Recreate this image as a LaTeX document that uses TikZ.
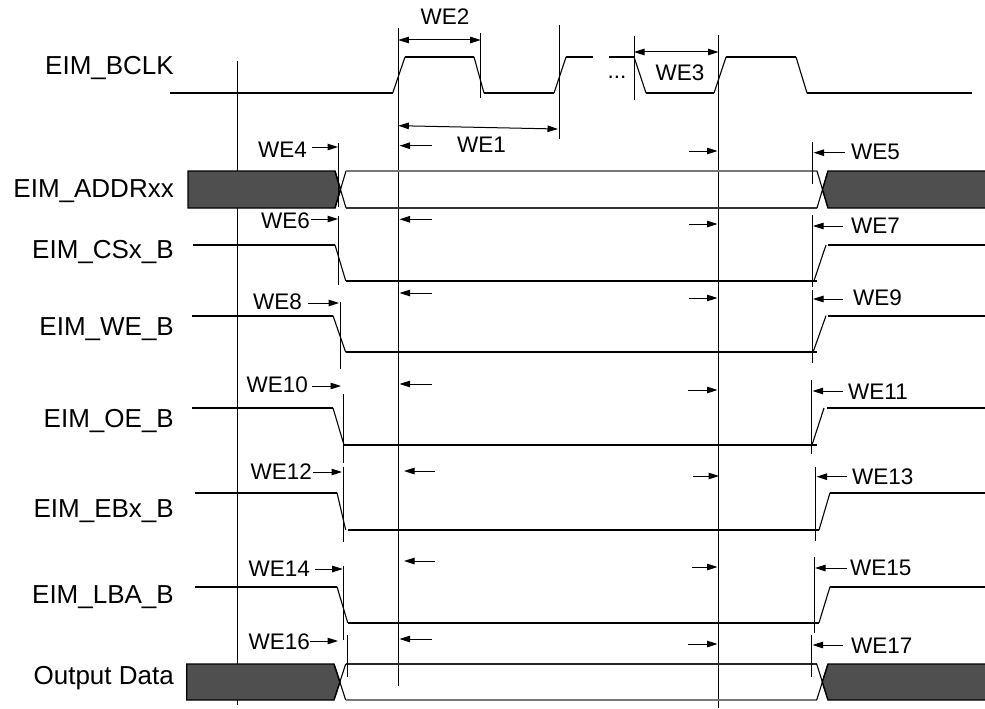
\documentclass[tikz,border=0pt]{standalone}
\usepackage{fontspec}
\setmainfont{Liberation Sans}
\usetikzlibrary{arrows.meta}
\definecolor{busfill}{HTML}{4F4F4F}
\definecolor{busgray}{HTML}{777777}
\tikzset{
  sig/.style={font=\fontsize{26}{30}\selectfont, inner sep=0pt, text height=18.6pt, text depth=0pt, anchor=east},
  lbl/.style={font=\fontsize{22.5}{27}\selectfont, inner sep=0pt, text height=16.1pt, text depth=0pt},
  wave/.style={line width=2pt, line join=miter},
  edge/.style={line width=1.1pt},
  guide/.style={line width=1pt},
  dim/.style={line width=1pt, -{Triangle[length=10.5pt,width=6.5pt]}},
  ddim/.style={line width=1pt, {Triangle[length=10.5pt,width=6.5pt]}-{Triangle[length=10.5pt,width=6.5pt]}},
  busdark/.style={fill=busfill, draw=black, line width=1.4pt},
}
\begin{document}
\begin{tikzpicture}[x=1pt,y=-1pt]
\useasboundingbox (0,0) rectangle (985,709);

% signal names
\node[sig] (nclk) at (174,65) {EIM\_BCLK};
\node[sig] (naddr) at (174,188) {EIM\_ADDRxx};
\node[sig] (ncs) at (174,249.5) {EIM\_CSx\_B};
\node[sig] (nwe) at (174,326) {EIM\_WE\_B};
\node[sig] (noe) at (174,418) {EIM\_OE\_B};
\node[sig] (neb) at (174,508) {EIM\_EBx\_B};
\node[sig] (nlba) at (174,594.5) {EIM\_LBA\_B};
\node[sig] (nout) at (174,675) {Output Data};

% main guide lines
\draw[guide] (237.7,61) -- (237.7,705);
\draw[guide] (398.3,28) -- (398.3,686);
\draw[guide] (718.5,35) -- (718.5,708);
\draw[guide] (480.7,33) -- (480.7,98);
\draw[guide] (559,25) -- (559,139);
\draw[guide] (634,36) -- (634,100);

% clock
\draw[wave] (170,93) -- (392.7,93);
\draw[edge] (392.7,93) -- (405,57);
\draw[wave] (405,57) -- (474,57);
\draw[edge] (474,57) -- (484,93);
\draw[wave] (484,93) -- (554,93);
\draw[edge] (554,93) -- (566,57);
\draw[wave] (566,57) -- (593,57);
\draw[wave] (609,57) -- (634,57);
\draw[edge] (634,57) -- (646,93);
\draw[wave] (646,93) -- (714,93);
\draw[edge] (714,93) -- (726,57);
\draw[wave] (726,57) -- (796,57);
\draw[edge] (796,57) -- (807,93);
\draw[wave] (807,93) -- (972,93);
\node[lbl, anchor=base] (dots) at (617,78) {...};

% clock dimensions
\draw[ddim] (398.3,40) -- (480.7,40);
\node[lbl] (we2) at (445,16) {WE2};
\draw[ddim] (398.3,125.7) -- (558,129);
\node[lbl] (we1) at (481.5,144) {WE1};
\draw[ddim] (634,52) -- (718.5,52);
\node[lbl] (we3) at (680,72.5) {WE3};

% address bus
\draw[busdark] (188,171) -- (335,171) -- (340.5,189.5) -- (335,208) -- (188,208) -- cycle;
\draw[edge] (335,171) -- (346,208) (335,208) -- (346,171);
\draw[line width=1.2pt, busgray] (346,171) -- (817,171);
\draw[line width=1.2pt, black!80] (346,208) -- (817,208);
\draw[edge] (817,171) -- (828,208) (817,208) -- (828,171);
\draw[busdark] (985,171) -- (828,171) -- (822.5,189.5) -- (828,208) -- (985,208);

% CS
\draw[wave] (193,245) -- (335,245);
\draw[edge] (335,245) -- (345.7,280.7);
\draw[wave] (345.7,280.7) -- (817,280.7);
\draw[edge] (814,280.7) -- (826,245);
\draw[wave] (828,245) -- (985,245);

% WE
\draw[wave] (192,315.7) -- (333,315.7);
\draw[edge] (333,315.7) -- (345.7,352.3);
\draw[wave] (345.7,352.3) -- (817,352.3);
\draw[edge] (813,352.3) -- (826,315.7);
\draw[wave] (828,315.7) -- (985,315.7);

% OE
\draw[wave] (192,408) -- (333,408);
\draw[edge] (333,408) -- (344,445);
\draw[wave] (344,445) -- (817,445);
\draw[edge] (812,445) -- (824,408);
\draw[wave] (827,408) -- (985,408);

% EB
\draw[wave] (195,492.7) -- (337,492.7);
\draw[edge] (337,492.7) -- (345.7,530);
\draw[wave] (348,530) -- (819,530);
\draw[edge] (819,530) -- (830,492.7);
\draw[wave] (830,492.7) -- (985,492.7);

% LBA
\draw[wave] (195,586.7) -- (337,586.7);
\draw[edge] (337,586.7) -- (347.7,622.7);
\draw[wave] (347.7,622.7) -- (819,622.7);
\draw[edge] (819,622.7) -- (830,586.7);
\draw[wave] (830,586.7) -- (985,586.7);

% output data bus
\draw[busdark] (186.7,664) -- (334,664) -- (340,682) -- (334,700) -- (186.7,700) -- cycle;
\draw[edge] (334,664) -- (345.7,700) (334,700) -- (345.7,664);
\draw[line width=1.2pt, black!85] (345.7,664) -- (816.7,664);
\draw[line width=1.2pt, busgray] (345.7,700) -- (816.7,700);
\draw[edge] (816.7,664) -- (828,700) (816.7,700) -- (828,664);
\draw[busdark] (985,664) -- (828,664) -- (822.3,682) -- (828,700) -- (985,700);

% left-side markers
\draw[guide] (338,143) -- (338,207);
\draw[dim] (312,147) -- (338,147);
\node[lbl, anchor=east] (we4) at (307,149) {WE4};
\draw[guide] (338,216) -- (338,285);
\draw[dim] (311,219) -- (338,219);
\node[lbl, anchor=east] (we6) at (310,220.5) {WE6};
\draw[guide] (340,302) -- (340,369);
\draw[dim] (308,303) -- (339,303);
\node[lbl, anchor=east] (we8) at (302,301) {WE8};
\draw[guide] (343,394) -- (343,463);
\draw[dim] (312,386) -- (341,386);
\node[lbl, anchor=east] (we10) at (308,384) {WE10};
\draw[guide] (343,467) -- (343,542);
\draw[dim] (313,472) -- (342,472);
\node[lbl, anchor=east] (we12) at (312,471) {WE12};
\draw[guide] (343,566) -- (343,640);
\draw[dim] (315,569) -- (342.7,569);
\node[lbl, anchor=east] (we14) at (310,568.5) {WE14};
\draw[guide] (347.7,635) -- (347.7,677);
\draw[dim] (310,641) -- (338,641);
\node[lbl, anchor=east] (we16) at (310,641.5) {WE16};

% arrows at second guide
\draw[dim] (432,145.7) -- (399.5,145.7);
\draw[dim] (432,219.3) -- (399.5,219.3);
\draw[dim] (432,293) -- (399.5,293);
\draw[dim] (432,384) -- (399.5,384);
\draw[dim] (435,471) -- (404,471);
\draw[dim] (435,561) -- (404,561);
\draw[dim] (432,639) -- (399.5,639);

% arrows at third guide
\draw[dim] (689,151) -- (717.5,151);
\draw[dim] (689,224) -- (717.5,224);
\draw[dim] (689,298) -- (717.5,298);
\draw[dim] (688,390) -- (717.5,390);
\draw[dim] (693,476) -- (719,476);
\draw[dim] (692,567) -- (717.5,567);
\draw[dim] (688,644) -- (717.5,644);

% right-side markers
\draw[guide] (812.7,142) -- (812.7,184);
\draw[dim] (845,152.7) -- (813.5,152.7);
\node[lbl, anchor=west] (we5) at (851,151) {WE5};
\draw[guide] (812,215) -- (812,287);
\draw[dim] (843,226) -- (813,226);
\node[lbl, anchor=west] (we7) at (851,225) {WE7};
\draw[guide] (812,290) -- (812,363);
\draw[dim] (843,299) -- (813,299);
\node[lbl, anchor=west] (we9) at (853,297) {WE9};
\draw[guide] (811.7,380) -- (811.7,454);
\draw[dim] (843,391) -- (812.5,391);
\node[lbl, anchor=west] (we11) at (848,391.5) {WE11};
\draw[guide] (815.7,467) -- (815.7,541);
\draw[dim] (847,476.7) -- (816.5,476.7);
\node[lbl, anchor=west] (we13) at (852,476) {WE13};
\draw[guide] (814.3,557) -- (814.3,633);
\draw[dim] (847,568) -- (815,568);
\node[lbl, anchor=west] (we15) at (850,567) {WE15};
\draw[guide] (811.7,635) -- (811.7,677);
\draw[dim] (843,645) -- (812.5,645);
\node[lbl, anchor=west] (we17) at (851,645) {WE17};
\end{tikzpicture}
\end{document}
